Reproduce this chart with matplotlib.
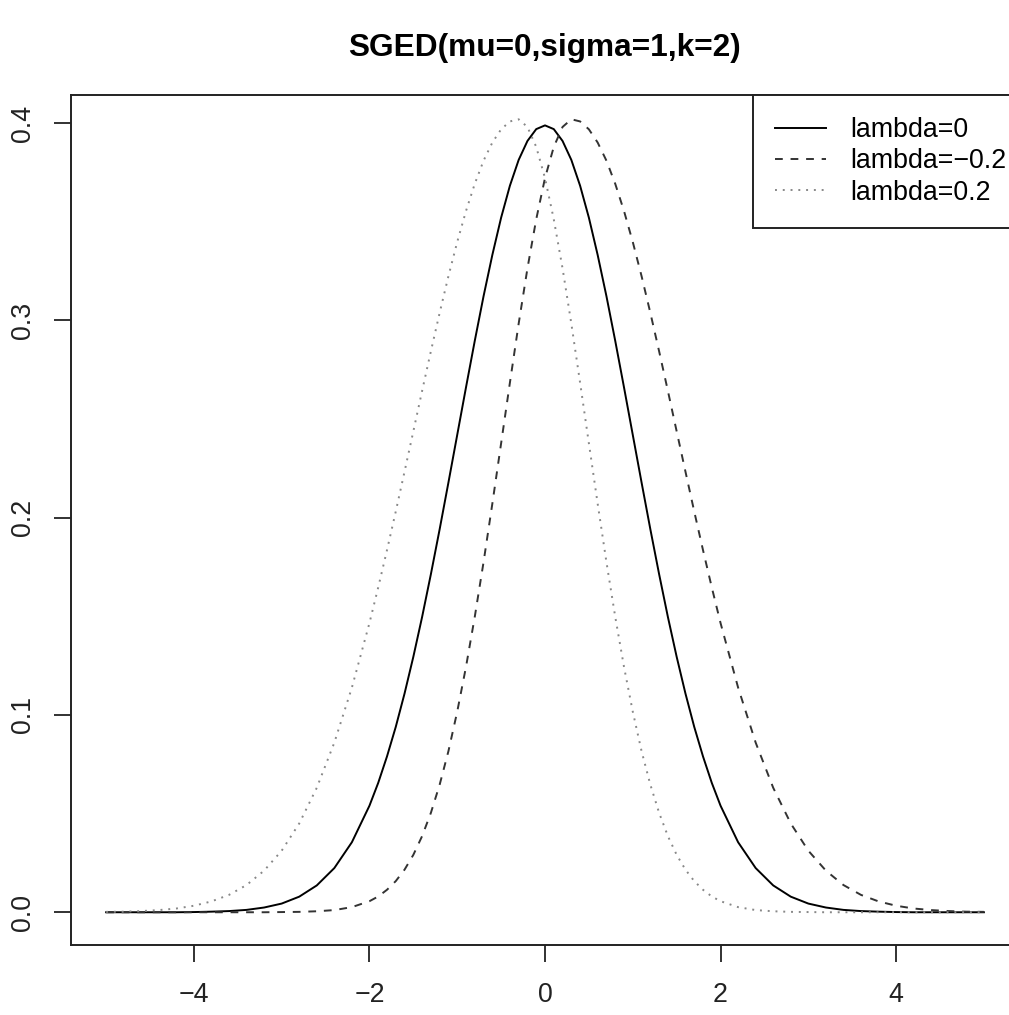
import matplotlib
matplotlib.use("Agg")
import numpy as np
import matplotlib.pyplot as plt

plt.rcParams['font.family'] = ['Liberation Sans', 'DejaVu Sans']

# x positions where the curves were read: step 0.2 in the tails, 0.1 in the middle
x_vals = np.round(np.concatenate([np.arange(-5.0, -1.95, 0.2),
                                  np.arange(-1.9, 1.95, 0.1),
                                  np.arange(2.0, 5.05, 0.2)]), 1)

# lambda=0 (symmetric)
dens_l0 = [0.0, 0.0, 0.0, 0.0, 0.0, 0.0001, 0.0003, 0.0006, 0.0012, 0.0024,
           0.0044, 0.0079, 0.0136, 0.0224, 0.0355, 0.0540,
           0.0656, 0.0790, 0.0940, 0.1109, 0.1295, 0.1497, 0.1714, 0.1942, 0.2179, 0.2420,
           0.2661, 0.2897, 0.3123, 0.3332, 0.3521, 0.3683, 0.3814, 0.3910, 0.3970, 0.3989,
           0.3970, 0.3910, 0.3814, 0.3683, 0.3521, 0.3332, 0.3123, 0.2897, 0.2661, 0.2420,
           0.2179, 0.1942, 0.1714, 0.1497, 0.1295, 0.1109, 0.0940, 0.0790, 0.0656,
           0.0540, 0.0355, 0.0224, 0.0136, 0.0079, 0.0044, 0.0024, 0.0012, 0.0006, 0.0003,
           0.0001, 0.0, 0.0, 0.0, 0.0, 0.0]

# lambda=-0.2 (peak right of 0, long right tail)
dens_lm02 = [0.0, 0.0, 0.0, 0.0, 0.0, 0.0, 0.0, 0.0, 0.0, 0.0,
             0.0001, 0.0002, 0.0005, 0.0011, 0.0026, 0.0056,
             0.0080, 0.0114, 0.0158, 0.0216, 0.0291, 0.0386, 0.0504, 0.0647, 0.0817, 0.1017,
             0.1244, 0.1498, 0.1775, 0.2071, 0.2377, 0.2684, 0.2984, 0.3264, 0.3513, 0.3722,
             0.3880, 0.3981, 0.4020, 0.4009, 0.3969, 0.3902, 0.3810, 0.3693, 0.3555, 0.3398,
             0.3225, 0.3039, 0.2844, 0.2643, 0.2438, 0.2234, 0.2032, 0.1836, 0.1647,
             0.1466, 0.1139, 0.0860, 0.0631, 0.0450, 0.0312, 0.0211, 0.0138, 0.0088, 0.0055,
             0.0033, 0.0019, 0.0011, 0.0006, 0.0003, 0.0002]

# lambda=0.2 (peak left of 0, long left tail)
dens_lp02 = [0.0002, 0.0003, 0.0006, 0.0011, 0.0019, 0.0033, 0.0055, 0.0088, 0.0138, 0.0211,
             0.0312, 0.0450, 0.0631, 0.0860, 0.1139, 0.1466,
             0.1647, 0.1836, 0.2032, 0.2234, 0.2438, 0.2643, 0.2844, 0.3039, 0.3225, 0.3398,
             0.3555, 0.3693, 0.3810, 0.3902, 0.3969, 0.4009, 0.4020, 0.3981, 0.3880, 0.3722,
             0.3513, 0.3264, 0.2984, 0.2684, 0.2377, 0.2071, 0.1775, 0.1498, 0.1244, 0.1017,
             0.0817, 0.0647, 0.0504, 0.0386, 0.0291, 0.0216, 0.0158, 0.0114, 0.0080,
             0.0056, 0.0026, 0.0011, 0.0005, 0.0002, 0.0001, 0.0, 0.0, 0.0, 0.0,
             0.0, 0.0, 0.0, 0.0, 0.0, 0.0]

labels = ['lambda=0', 'lambda=\u22120.2', 'lambda=0.2']
x_ticks = [-4, -2, 0, 2, 4]
y_ticks = [0.0, 0.1, 0.2, 0.3, 0.4]


def plot_sged():
    fig = plt.figure(figsize=(10.09, 10.15), dpi=100)
    ax = fig.add_axes([71 / 1009, 70 / 1015, 948 / 1009, 850 / 1015])

    lw = 1.4
    ax.plot(x_vals, dens_l0, color='black', linewidth=lw, label=labels[0])
    ax.plot(x_vals, dens_lm02, color='#333333', linewidth=lw,
            linestyle=(0, (4, 4)), label=labels[1])
    ax.plot(x_vals, dens_lp02, color='#888888', linewidth=lw,
            linestyle=(0, (1, 3)), label=labels[2])

    ax.set_xlim(-5.4, 5.4)
    ax.set_ylim(-0.0166, 0.4143)

    ax.set_xticks(x_ticks)
    ax.set_xticklabels([f"{t:d}".replace('-', '\u2212') for t in x_ticks])
    ax.set_yticks(y_ticks)
    ax.set_yticklabels([f"{t:.1f}" for t in y_ticks], rotation=90, va='center')

    ax.tick_params(axis='both', direction='out', length=12, width=1.3,
                   labelsize=19.3, colors='#222222')
    ax.tick_params(axis='x', pad=15)
    ax.tick_params(axis='y', pad=13)
    for spine in ax.spines.values():
        spine.set_linewidth(1.4)
        spine.set_color('#222222')

    ax.set_title('SGED(mu=0,sigma=1,k=2)', fontsize=22.8, fontweight='bold', pad=28)

    leg = ax.legend(loc='upper right', bbox_to_anchor=(1.0095, 1.0),
                    borderaxespad=0, fancybox=False, framealpha=1,
                    edgecolor='#222222', fontsize=19.3, handlelength=1.9,
                    handletextpad=0.9, borderpad=0.82, labelspacing=0.2)
    leg.get_frame().set_linewidth(1.4)

    fig.savefig('out.png', dpi=100)
    return fig


plot_sged()
